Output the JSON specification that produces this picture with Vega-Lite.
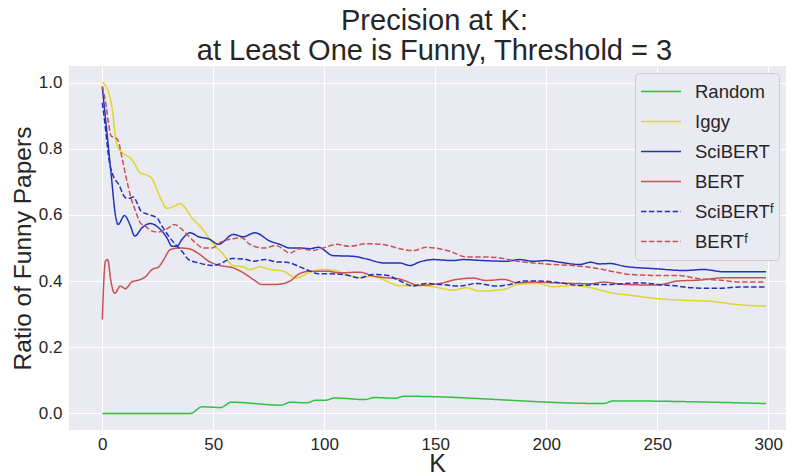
{
  "$schema": "https://vega.github.io/schema/vega-lite/v6.json",
  "autosize": "none",
  "width": 717,
  "height": 364,
  "padding": {"left": 69, "top": 66, "right": 0, "bottom": 43},
  "background": "white",
  "title": {
    "text": ["Precision at K:", "at Least One is Funny, Threshold = 3"],
    "font": "Liberation Sans",
    "fontSize": 29,
    "fontWeight": "normal",
    "color": "#262626",
    "lineHeight": 30,
    "anchor": "middle",
    "frame": "group",
    "dx": 7,
    "offset": 0
  },
  "data": {
    "values": [
      {"model": "Random", "k": 0, "v": 0},
      {"model": "Random", "k": 39.7, "v": 0},
      {"model": "Random", "k": 44.9, "v": 0.020},
      {"model": "Random", "k": 53.3, "v": 0.018},
      {"model": "Random", "k": 58.1, "v": 0.034},
      {"model": "Random", "k": 80.5, "v": 0.025},
      {"model": "Random", "k": 84.8, "v": 0.034},
      {"model": "Random", "k": 92, "v": 0.032},
      {"model": "Random", "k": 96.3, "v": 0.040},
      {"model": "Random", "k": 100.5, "v": 0.040},
      {"model": "Random", "k": 104.7, "v": 0.047},
      {"model": "Random", "k": 118.3, "v": 0.042},
      {"model": "Random", "k": 122.5, "v": 0.048},
      {"model": "Random", "k": 131.9, "v": 0.046},
      {"model": "Random", "k": 136, "v": 0.052},
      {"model": "Random", "k": 225.3, "v": 0.030},
      {"model": "Random", "k": 230.5, "v": 0.038},
      {"model": "Random", "k": 299, "v": 0.030},

      {"model": "Iggy", "k": 0, "v": 1.0},
      {"model": "Iggy", "k": 2, "v": 0.984},
      {"model": "Iggy", "k": 4.4, "v": 0.924},
      {"model": "Iggy", "k": 6.6, "v": 0.81},
      {"model": "Iggy", "k": 8.9, "v": 0.789},
      {"model": "Iggy", "k": 13.4, "v": 0.767},
      {"model": "Iggy", "k": 17.1, "v": 0.727},
      {"model": "Iggy", "k": 20.1, "v": 0.72},
      {"model": "Iggy", "k": 22.4, "v": 0.71},
      {"model": "Iggy", "k": 25, "v": 0.67},
      {"model": "Iggy", "k": 27, "v": 0.64},
      {"model": "Iggy", "k": 29, "v": 0.62},
      {"model": "Iggy", "k": 32, "v": 0.625},
      {"model": "Iggy", "k": 35, "v": 0.634},
      {"model": "Iggy", "k": 38, "v": 0.615},
      {"model": "Iggy", "k": 40.4, "v": 0.591},
      {"model": "Iggy", "k": 44, "v": 0.566},
      {"model": "Iggy", "k": 46.4, "v": 0.546},
      {"model": "Iggy", "k": 50, "v": 0.512},
      {"model": "Iggy", "k": 53.9, "v": 0.486},
      {"model": "Iggy", "k": 59, "v": 0.447},
      {"model": "Iggy", "k": 63.5, "v": 0.443},
      {"model": "Iggy", "k": 66.5, "v": 0.435},
      {"model": "Iggy", "k": 71, "v": 0.443},
      {"model": "Iggy", "k": 75.5, "v": 0.435},
      {"model": "Iggy", "k": 81.5, "v": 0.43},
      {"model": "Iggy", "k": 87.6, "v": 0.41},
      {"model": "Iggy", "k": 93.6, "v": 0.427},
      {"model": "Iggy", "k": 99.5, "v": 0.435},
      {"model": "Iggy", "k": 104, "v": 0.433},
      {"model": "Iggy", "k": 110, "v": 0.42},
      {"model": "Iggy", "k": 116, "v": 0.41},
      {"model": "Iggy", "k": 122, "v": 0.415},
      {"model": "Iggy", "k": 128, "v": 0.40},
      {"model": "Iggy", "k": 134, "v": 0.386},
      {"model": "Iggy", "k": 143, "v": 0.387},
      {"model": "Iggy", "k": 149, "v": 0.383},
      {"model": "Iggy", "k": 158, "v": 0.373},
      {"model": "Iggy", "k": 164, "v": 0.38},
      {"model": "Iggy", "k": 170, "v": 0.37},
      {"model": "Iggy", "k": 181, "v": 0.375},
      {"model": "Iggy", "k": 187, "v": 0.39},
      {"model": "Iggy", "k": 196, "v": 0.393},
      {"model": "Iggy", "k": 203, "v": 0.383},
      {"model": "Iggy", "k": 212, "v": 0.387},
      {"model": "Iggy", "k": 220, "v": 0.38},
      {"model": "Iggy", "k": 229, "v": 0.365},
      {"model": "Iggy", "k": 238, "v": 0.357},
      {"model": "Iggy", "k": 250, "v": 0.347},
      {"model": "Iggy", "k": 262, "v": 0.342},
      {"model": "Iggy", "k": 274, "v": 0.339},
      {"model": "Iggy", "k": 286, "v": 0.329},
      {"model": "Iggy", "k": 299, "v": 0.324},

      {"model": "SciBERT", "k": 0, "v": 0.986},
      {"model": "SciBERT", "k": 2.1, "v": 0.848},
      {"model": "SciBERT", "k": 4, "v": 0.722},
      {"model": "SciBERT", "k": 5.9, "v": 0.60},
      {"model": "SciBERT", "k": 7.1, "v": 0.571},
      {"model": "SciBERT", "k": 10, "v": 0.598},
      {"model": "SciBERT", "k": 12.5, "v": 0.57},
      {"model": "SciBERT", "k": 14.6, "v": 0.536},
      {"model": "SciBERT", "k": 17.9, "v": 0.561},
      {"model": "SciBERT", "k": 21.6, "v": 0.574},
      {"model": "SciBERT", "k": 25.4, "v": 0.561},
      {"model": "SciBERT", "k": 29.1, "v": 0.531},
      {"model": "SciBERT", "k": 31.4, "v": 0.505},
      {"model": "SciBERT", "k": 33.6, "v": 0.505},
      {"model": "SciBERT", "k": 35.9, "v": 0.526},
      {"model": "SciBERT", "k": 39.6, "v": 0.546},
      {"model": "SciBERT", "k": 43.4, "v": 0.534},
      {"model": "SciBERT", "k": 48.2, "v": 0.527},
      {"model": "SciBERT", "k": 52.3, "v": 0.511},
      {"model": "SciBERT", "k": 59, "v": 0.541},
      {"model": "SciBERT", "k": 63.5, "v": 0.534},
      {"model": "SciBERT", "k": 68.8, "v": 0.546},
      {"model": "SciBERT", "k": 75.5, "v": 0.521},
      {"model": "SciBERT", "k": 80, "v": 0.511},
      {"model": "SciBERT", "k": 84.5, "v": 0.50},
      {"model": "SciBERT", "k": 89, "v": 0.50},
      {"model": "SciBERT", "k": 93.6, "v": 0.498},
      {"model": "SciBERT", "k": 97.3, "v": 0.502},
      {"model": "SciBERT", "k": 104, "v": 0.477},
      {"model": "SciBERT", "k": 113, "v": 0.475},
      {"model": "SciBERT", "k": 119, "v": 0.467},
      {"model": "SciBERT", "k": 126.6, "v": 0.455},
      {"model": "SciBERT", "k": 134, "v": 0.455},
      {"model": "SciBERT", "k": 138.6, "v": 0.447},
      {"model": "SciBERT", "k": 143, "v": 0.458},
      {"model": "SciBERT", "k": 149, "v": 0.465},
      {"model": "SciBERT", "k": 158, "v": 0.462},
      {"model": "SciBERT", "k": 162.6, "v": 0.465},
      {"model": "SciBERT", "k": 171.6, "v": 0.462},
      {"model": "SciBERT", "k": 182, "v": 0.46},
      {"model": "SciBERT", "k": 188, "v": 0.465},
      {"model": "SciBERT", "k": 194, "v": 0.46},
      {"model": "SciBERT", "k": 200, "v": 0.462},
      {"model": "SciBERT", "k": 206, "v": 0.457},
      {"model": "SciBERT", "k": 215, "v": 0.45},
      {"model": "SciBERT", "k": 220, "v": 0.457},
      {"model": "SciBERT", "k": 224, "v": 0.452},
      {"model": "SciBERT", "k": 229, "v": 0.453},
      {"model": "SciBERT", "k": 235, "v": 0.445},
      {"model": "SciBERT", "k": 250, "v": 0.437},
      {"model": "SciBERT", "k": 262, "v": 0.432},
      {"model": "SciBERT", "k": 271, "v": 0.435},
      {"model": "SciBERT", "k": 280, "v": 0.428},
      {"model": "SciBERT", "k": 299, "v": 0.428},

      {"model": "BERT", "k": 0, "v": 0.284},
      {"model": "BERT", "k": 1.4, "v": 0.46},
      {"model": "BERT", "k": 2.4, "v": 0.465},
      {"model": "BERT", "k": 4, "v": 0.395},
      {"model": "BERT", "k": 5.6, "v": 0.363},
      {"model": "BERT", "k": 8.1, "v": 0.385},
      {"model": "BERT", "k": 10.4, "v": 0.377},
      {"model": "BERT", "k": 13.4, "v": 0.398},
      {"model": "BERT", "k": 16.4, "v": 0.403},
      {"model": "BERT", "k": 19.4, "v": 0.413},
      {"model": "BERT", "k": 22.4, "v": 0.435},
      {"model": "BERT", "k": 25.4, "v": 0.443},
      {"model": "BERT", "k": 27.7, "v": 0.465},
      {"model": "BERT", "k": 30.6, "v": 0.495},
      {"model": "BERT", "k": 34.4, "v": 0.50},
      {"model": "BERT", "k": 38.9, "v": 0.498},
      {"model": "BERT", "k": 43.4, "v": 0.483},
      {"model": "BERT", "k": 47.9, "v": 0.46},
      {"model": "BERT", "k": 53, "v": 0.447},
      {"model": "BERT", "k": 59, "v": 0.44},
      {"model": "BERT", "k": 63.5, "v": 0.425},
      {"model": "BERT", "k": 68, "v": 0.405},
      {"model": "BERT", "k": 71.8, "v": 0.39},
      {"model": "BERT", "k": 78.5, "v": 0.39},
      {"model": "BERT", "k": 84.5, "v": 0.40},
      {"model": "BERT", "k": 89, "v": 0.423},
      {"model": "BERT", "k": 93.6, "v": 0.43},
      {"model": "BERT", "k": 101, "v": 0.43},
      {"model": "BERT", "k": 107, "v": 0.425},
      {"model": "BERT", "k": 116, "v": 0.427},
      {"model": "BERT", "k": 122, "v": 0.415},
      {"model": "BERT", "k": 128, "v": 0.41},
      {"model": "BERT", "k": 134, "v": 0.406},
      {"model": "BERT", "k": 143, "v": 0.387},
      {"model": "BERT", "k": 152, "v": 0.393},
      {"model": "BERT", "k": 159.6, "v": 0.405},
      {"model": "BERT", "k": 167, "v": 0.409},
      {"model": "BERT", "k": 173, "v": 0.402},
      {"model": "BERT", "k": 181, "v": 0.405},
      {"model": "BERT", "k": 187, "v": 0.395},
      {"model": "BERT", "k": 194, "v": 0.397},
      {"model": "BERT", "k": 203, "v": 0.395},
      {"model": "BERT", "k": 212, "v": 0.393},
      {"model": "BERT", "k": 220, "v": 0.392},
      {"model": "BERT", "k": 226, "v": 0.397},
      {"model": "BERT", "k": 235, "v": 0.39},
      {"model": "BERT", "k": 250, "v": 0.388},
      {"model": "BERT", "k": 259, "v": 0.40},
      {"model": "BERT", "k": 269, "v": 0.403},
      {"model": "BERT", "k": 280, "v": 0.41},
      {"model": "BERT", "k": 299, "v": 0.41},

      {"model": "SciBERTᶠ", "k": 0, "v": 0.939},
      {"model": "SciBERTᶠ", "k": 1.4, "v": 0.863},
      {"model": "SciBERTᶠ", "k": 2.9, "v": 0.772},
      {"model": "SciBERTᶠ", "k": 4.7, "v": 0.722},
      {"model": "SciBERTᶠ", "k": 7.4, "v": 0.692},
      {"model": "SciBERTᶠ", "k": 10.4, "v": 0.652},
      {"model": "SciBERTᶠ", "k": 11.9, "v": 0.650},
      {"model": "SciBERTᶠ", "k": 14.1, "v": 0.654},
      {"model": "SciBERTᶠ", "k": 15.6, "v": 0.637},
      {"model": "SciBERTᶠ", "k": 17.5, "v": 0.611},
      {"model": "SciBERTᶠ", "k": 20.9, "v": 0.601},
      {"model": "SciBERTᶠ", "k": 24.6, "v": 0.591},
      {"model": "SciBERTᶠ", "k": 26.9, "v": 0.566},
      {"model": "SciBERTᶠ", "k": 29.9, "v": 0.536},
      {"model": "SciBERTᶠ", "k": 32.9, "v": 0.511},
      {"model": "SciBERTᶠ", "k": 35.9, "v": 0.49},
      {"model": "SciBERTᶠ", "k": 38.9, "v": 0.465},
      {"model": "SciBERTᶠ", "k": 43.4, "v": 0.455},
      {"model": "SciBERTᶠ", "k": 49.4, "v": 0.447},
      {"model": "SciBERTᶠ", "k": 53, "v": 0.452},
      {"model": "SciBERTᶠ", "k": 58.3, "v": 0.468},
      {"model": "SciBERTᶠ", "k": 63.5, "v": 0.467},
      {"model": "SciBERTᶠ", "k": 68, "v": 0.46},
      {"model": "SciBERTᶠ", "k": 73.3, "v": 0.465},
      {"model": "SciBERTᶠ", "k": 78.5, "v": 0.458},
      {"model": "SciBERTᶠ", "k": 83, "v": 0.457},
      {"model": "SciBERTᶠ", "k": 89, "v": 0.443},
      {"model": "SciBERTᶠ", "k": 93.6, "v": 0.43},
      {"model": "SciBERTᶠ", "k": 97.3, "v": 0.422},
      {"model": "SciBERTᶠ", "k": 102.6, "v": 0.422},
      {"model": "SciBERTᶠ", "k": 108.6, "v": 0.42},
      {"model": "SciBERTᶠ", "k": 116, "v": 0.41},
      {"model": "SciBERTᶠ", "k": 122, "v": 0.42},
      {"model": "SciBERTᶠ", "k": 128, "v": 0.418},
      {"model": "SciBERTᶠ", "k": 134, "v": 0.401},
      {"model": "SciBERTᶠ", "k": 140, "v": 0.385},
      {"model": "SciBERTᶠ", "k": 146, "v": 0.393},
      {"model": "SciBERTᶠ", "k": 152, "v": 0.39},
      {"model": "SciBERTᶠ", "k": 161, "v": 0.385},
      {"model": "SciBERTᶠ", "k": 168.6, "v": 0.393},
      {"model": "SciBERTᶠ", "k": 177.6, "v": 0.385},
      {"model": "SciBERTᶠ", "k": 183.6, "v": 0.39},
      {"model": "SciBERTᶠ", "k": 189.6, "v": 0.40},
      {"model": "SciBERTᶠ", "k": 197, "v": 0.40},
      {"model": "SciBERTᶠ", "k": 206, "v": 0.395},
      {"model": "SciBERTᶠ", "k": 215, "v": 0.387},
      {"model": "SciBERTᶠ", "k": 224, "v": 0.39},
      {"model": "SciBERTᶠ", "k": 229, "v": 0.39},
      {"model": "SciBERTᶠ", "k": 242, "v": 0.395},
      {"model": "SciBERTᶠ", "k": 250, "v": 0.39},
      {"model": "SciBERTᶠ", "k": 259, "v": 0.385},
      {"model": "SciBERTᶠ", "k": 265, "v": 0.38},
      {"model": "SciBERTᶠ", "k": 277, "v": 0.378},
      {"model": "SciBERTᶠ", "k": 287, "v": 0.382},
      {"model": "SciBERTᶠ", "k": 299, "v": 0.382},

      {"model": "BERTᶠ", "k": 0, "v": 0.989},
      {"model": "BERTᶠ", "k": 1.4, "v": 0.944},
      {"model": "BERTᶠ", "k": 2.9, "v": 0.873},
      {"model": "BERTᶠ", "k": 4, "v": 0.838},
      {"model": "BERTᶠ", "k": 5.9, "v": 0.833},
      {"model": "BERTᶠ", "k": 7.1, "v": 0.825},
      {"model": "BERTᶠ", "k": 8.9, "v": 0.772},
      {"model": "BERTᶠ", "k": 11.1, "v": 0.702},
      {"model": "BERTᶠ", "k": 13.4, "v": 0.641},
      {"model": "BERTᶠ", "k": 14.9, "v": 0.613},
      {"model": "BERTᶠ", "k": 17.1, "v": 0.576},
      {"model": "BERTᶠ", "k": 19.4, "v": 0.566},
      {"model": "BERTᶠ", "k": 22.4, "v": 0.551},
      {"model": "BERTᶠ", "k": 25.4, "v": 0.548},
      {"model": "BERTᶠ", "k": 29.1, "v": 0.558},
      {"model": "BERTᶠ", "k": 32.6, "v": 0.571},
      {"model": "BERTᶠ", "k": 35.1, "v": 0.561},
      {"model": "BERTᶠ", "k": 38.9, "v": 0.536},
      {"model": "BERTᶠ", "k": 41.9, "v": 0.516},
      {"model": "BERTᶠ", "k": 45.7, "v": 0.50},
      {"model": "BERTᶠ", "k": 49.4, "v": 0.50},
      {"model": "BERTᶠ", "k": 53.5, "v": 0.518},
      {"model": "BERTᶠ", "k": 59, "v": 0.528},
      {"model": "BERTᶠ", "k": 62.8, "v": 0.531},
      {"model": "BERTᶠ", "k": 66.5, "v": 0.511},
      {"model": "BERTᶠ", "k": 72.5, "v": 0.50},
      {"model": "BERTᶠ", "k": 78.5, "v": 0.507},
      {"model": "BERTᶠ", "k": 84.5, "v": 0.485},
      {"model": "BERTᶠ", "k": 89, "v": 0.498},
      {"model": "BERTᶠ", "k": 95, "v": 0.493},
      {"model": "BERTᶠ", "k": 99.5, "v": 0.50},
      {"model": "BERTᶠ", "k": 105.6, "v": 0.511},
      {"model": "BERTᶠ", "k": 111.6, "v": 0.505},
      {"model": "BERTᶠ", "k": 119, "v": 0.513},
      {"model": "BERTᶠ", "k": 128, "v": 0.509},
      {"model": "BERTᶠ", "k": 134, "v": 0.498},
      {"model": "BERTᶠ", "k": 140, "v": 0.492},
      {"model": "BERTᶠ", "k": 146, "v": 0.502},
      {"model": "BERTᶠ", "k": 156.6, "v": 0.49},
      {"model": "BERTᶠ", "k": 164, "v": 0.473},
      {"model": "BERTᶠ", "k": 171.6, "v": 0.473},
      {"model": "BERTᶠ", "k": 179, "v": 0.47},
      {"model": "BERTᶠ", "k": 187, "v": 0.46},
      {"model": "BERTᶠ", "k": 194, "v": 0.455},
      {"model": "BERTᶠ", "k": 203, "v": 0.45},
      {"model": "BERTᶠ", "k": 212, "v": 0.447},
      {"model": "BERTᶠ", "k": 218, "v": 0.443},
      {"model": "BERTᶠ", "k": 224, "v": 0.437},
      {"model": "BERTᶠ", "k": 229, "v": 0.43},
      {"model": "BERTᶠ", "k": 238, "v": 0.42},
      {"model": "BERTᶠ", "k": 250, "v": 0.417},
      {"model": "BERTᶠ", "k": 259, "v": 0.417},
      {"model": "BERTᶠ", "k": 269, "v": 0.407},
      {"model": "BERTᶠ", "k": 280, "v": 0.402},
      {"model": "BERTᶠ", "k": 287, "v": 0.397},
      {"model": "BERTᶠ", "k": 299, "v": 0.397}
    ]
  },
  "mark": {"type": "line", "interpolate": "monotone", "strokeWidth": 1.5, "clip": true},
  "encoding": {
    "x": {
      "field": "k", "type": "quantitative",
      "scale": {"domain": [-15, 308], "nice": false, "zero": false},
      "axis": {
        "values": [0, 50, 100, 150, 200, 250, 300],
        "title": "K",
        "titleFontSize": 25,
        "titleX": 368,
        "titleY": 41,
        "titleAlign": "center",
        "titleBaseline": "alphabetic",
        "labelPadding": 6
      }
    },
    "y": {
      "field": "v", "type": "quantitative",
      "scale": {"domain": [-0.05, 1.05], "nice": false, "zero": false},
      "axis": {
        "values": [0, 0.2, 0.4, 0.6, 0.8, 1.0],
        "format": ".1f",
        "title": "Ratio of Funny Papers",
        "titleFontSize": 24.5,
        "titleX": -39,
        "titleY": 182,
        "titleAngle": -90,
        "titleAlign": "center",
        "titleBaseline": "alphabetic",
        "labelPadding": 7
      }
    },
    "color": {
      "field": "model", "type": "nominal",
      "scale": {
        "domain": ["Random", "Iggy", "SciBERT", "BERT", "SciBERTᶠ", "BERTᶠ"],
        "range": ["#2fc23f", "#dcd82a", "#2233bb", "#c95151", "#2233bb", "#c95151"]
      },
      "legend": {"title": null, "orient": "none", "legendX": 566, "legendY": 7}
    },
    "strokeDash": {
      "field": "model", "type": "nominal",
      "scale": {
        "domain": ["Random", "Iggy", "SciBERT", "BERT", "SciBERTᶠ", "BERTᶠ"],
        "range": [[1, 0], [1, 0], [1, 0], [1, 0], [5.5, 2.4], [5.5, 2.4]]
      },
      "legend": {"title": null, "orient": "none", "legendX": 566, "legendY": 7}
    }
  },
  "config": {
    "font": "Liberation Sans",
    "view": {"fill": "#EAEAF2", "stroke": null},
    "axis": {
      "grid": true,
      "gridColor": "#ffffff",
      "gridWidth": 1.1,
      "domain": false,
      "ticks": false,
      "labelFont": "Liberation Sans",
      "labelFontSize": 17,
      "labelColor": "#262626",
      "titleFont": "Liberation Sans",
      "titleFontWeight": "normal",
      "titleColor": "#262626"
    },
    "legend": {
      "fillColor": "#EAEAF2",
      "strokeColor": "#cccccc",
      "cornerRadius": 4,
      "padding": 5,
      "labelFont": "Liberation Sans",
      "labelFontSize": 18.5,
      "labelColor": "#262626",
      "labelOffset": 13,
      "symbolType": "stroke",
      "symbolSize": 1600,
      "symbolStrokeWidth": 1.5,
      "clipHeight": 27,
      "rowPadding": 3
    }
  }
}
